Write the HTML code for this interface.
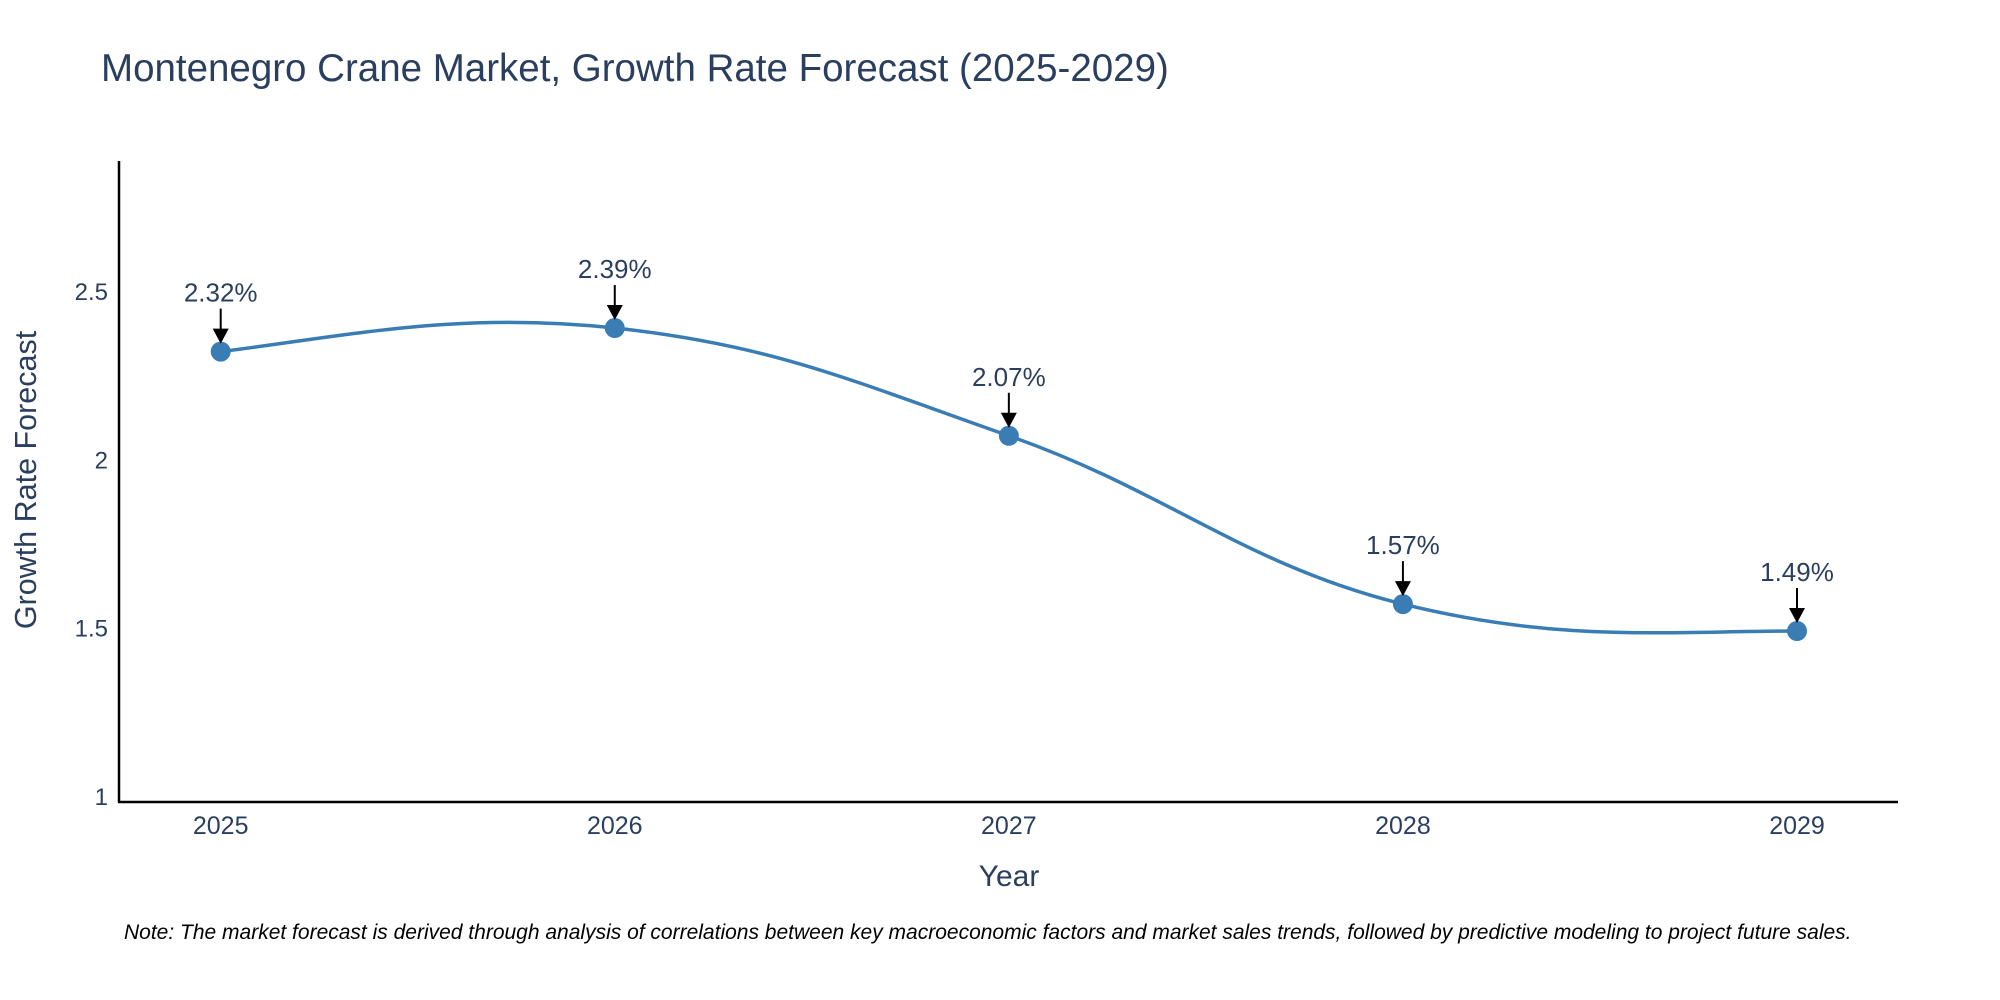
<!DOCTYPE html>
<html><head><meta charset="utf-8"><style>
html,body{margin:0;padding:0;background:#fff;}
svg{display:block;font-family:"Liberation Sans",sans-serif;}
</style></head><body>
<svg id="chart" width="2000" height="1000">
<text x="101" y="81" font-size="38.5" fill="#2a3f5f">Montenegro Crane Market, Growth Rate Forecast (2025-2029)</text>
<g id="yticks"></g>
<g id="xticks"></g>
<line x1="119" y1="161" x2="119" y2="802" stroke="#000" stroke-width="2.5"/>
<line x1="118" y1="802" x2="1898" y2="802" stroke="#000" stroke-width="2.5"/>
<text transform="translate(36,480) rotate(-90)" text-anchor="middle" font-size="30.5" fill="#2a3f5f">Growth Rate Forecast</text>
<text x="1009" y="886" text-anchor="middle" font-size="30" fill="#2a3f5f">Year</text>
<g id="series"></g>
<text x="124" y="939" font-size="21" font-style="italic" fill="#000">Note: The market forecast is derived through analysis of correlations between key macroeconomic factors and market sales trends, followed by predictive modeling to project future sales.</text>
</svg>
<script>
const years = [2025, 2026, 2027, 2028, 2029];
const growth = [2.32, 2.39, 2.07, 1.57, 1.49];
const yTickValues = [1, 1.5, 2, 2.5];
const yTickLabels = ["1", "1.5", "2", "2.5"];

const NS = "http://www.w3.org/2000/svg";
const xScale = v => 220.7 + (v - 2025) * (1797 - 220.7) / 4;
const yScale = v => 796 - (v - 1) * (796 - 291) / 1.5;
function mk(tag, attrs, parent){const e=document.createElementNS(NS,tag);for(const k in attrs)e.setAttribute(k,attrs[k]);parent.appendChild(e);return e;}

const yt = document.getElementById('yticks');
yTickValues.forEach((v,i)=>{
  const t = mk('text',{x:108,y:yScale(v)+9,'text-anchor':'end','font-size':24,fill:'#2a3f5f'},yt);
  
  
  t.textContent = yTickLabels[i];
});
const xt = document.getElementById('xticks');
years.forEach(y=>{
  const t = mk('text',{x:xScale(y),y:834,'text-anchor':'middle','font-size':25,fill:'#2a3f5f'},xt);
  
  
  t.textContent = String(y);
});

const g = document.getElementById('series');
const pts = years.map((y,i)=>[xScale(y), yScale(growth[i])]);
let d = `M${pts[0][0]},${pts[0][1]}`;
const k = 0.2;
for(let i=0;i<pts.length-1;i++){
  const p0 = pts[Math.max(0,i-1)], p1 = pts[i], p2 = pts[i+1], p3 = pts[Math.min(pts.length-1,i+2)];
  const c1 = [p1[0]+(p2[0]-p0[0])*k, p1[1]+(p2[1]-p0[1])*k];
  const c2 = [p2[0]-(p3[0]-p1[0])*k, p2[1]-(p3[1]-p1[1])*k];
  if(i===0){c1[0]=p1[0]+(p2[0]-p1[0])*0.33;c1[1]=p1[1]+(c2[1]-p1[1])*0.4;}
  if(i===pts.length-2){c2[0]=p2[0]-(p2[0]-p1[0])*0.33;c2[1]=p2[1];}
  d += ` C${c1[0]},${c1[1]} ${c2[0]},${c2[1]} ${p2[0]},${p2[1]}`;
}
const line = mk('path',{d:d,fill:'none',stroke:'#3a7db5','stroke-width':3.5},g);



pts.forEach((p,i)=>{
  const c = mk('circle',{cx:p[0],cy:p[1],r:10,fill:'#3a7db5'},g);
  
  
  const a = mk('line',{x1:p[0],y1:p[1]-43,x2:p[0],y2:p[1]-20,stroke:'#000','stroke-width':2},g);
  
  
  const h = mk('polygon',{points:`${p[0]-8},${p[1]-23} ${p[0]+8},${p[1]-23} ${p[0]},${p[1]-8}`,fill:'#000'},g);
  
  
  const t = mk('text',{x:p[0],y:p[1]-50,'text-anchor':'middle','font-size':26,fill:'#2a3f5f'},g);
  
  
  t.textContent = growth[i].toFixed(2)+'%';
});
</script>
</body></html>
